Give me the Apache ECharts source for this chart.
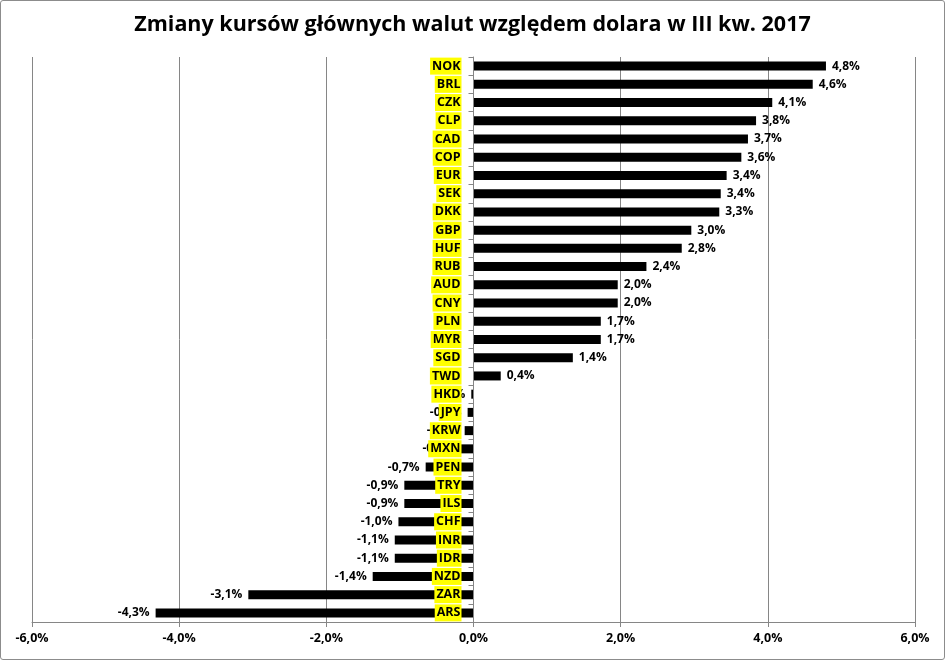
<!DOCTYPE html>
<html>
<head>
<meta charset="utf-8">
<script src="https://cdn.jsdelivr.net/npm/echarts@6/dist/echarts.min.js"></script>
<style>
  html, body { margin: 0; padding: 0; background: #fff; }
  #chart { width: 943px; height: 658px; border: 1px solid #8c8c8c; border-radius: 3px; }
</style>
</head>
<body>
<div id="chart"></div>
<script>
// waluty, od góry wykresu
var currencies = ['NOK', 'BRL', 'CZK', 'CLP', 'CAD', 'COP', 'EUR', 'SEK', 'DKK', 'GBP',
    'HUF', 'RUB', 'AUD', 'CNY', 'PLN', 'MYR', 'SGD', 'TWD', 'HKD', 'JPY',
    'KRW', 'MXN', 'PEN', 'TRY', 'ILS', 'CHF', 'INR', 'IDR', 'NZD', 'ZAR', 'ARS'];
// zmiana kursu w %
var changes = [4.79, 4.61, 4.06, 3.84, 3.73, 3.64, 3.44, 3.36, 3.34, 2.96,
    2.83, 2.35, 1.96, 1.96, 1.73, 1.73, 1.35, 0.37, -0.03, -0.08,
    -0.12, -0.18, -0.65, -0.94, -0.94, -1.02, -1.07, -1.07, -1.37, -3.06, -4.32];
var xTicks = [-6, -4, -2, 0, 2, 4, 6];

function pct(v) {
    return v.toFixed(1).replace('.', ',') + '%';
}

var data = [];
for (var i = 0; i < changes.length; i++) {
    data.push({
        value: changes[i],
        label: { position: changes[i] >= 0 ? 'right' : 'left' }
    });
}

var gridLeft = 31, gridRight = 29;
var plotWidth = 943 - gridLeft - gridRight;
var xMin = xTicks[0], xMax = xTicks[xTicks.length - 1];
// oś kategorii ma stać na zerze
var zeroOffset = plotWidth * (0 - xMin) / (xMax - xMin);

var myChart = echarts.init(document.getElementById('chart'));
var option = {
    animation: false,
    title: {
        text: 'Zmiany kursów głównych walut względem dolara w III kw. 2017',
        left: 'center',
        top: 8,
        textStyle: {
            fontFamily: 'Open Sans',
            fontWeight: 'bold',
            fontSize: 21.5,
            color: '#000'
        }
    },
    grid: {
        left: gridLeft,
        right: gridRight,
        top: 56,
        bottom: 37,
        containLabel: false,
        outerBoundsMode: 'none'
    },
    xAxis: {
        type: 'value',
        min: xMin,
        max: xMax,
        interval: 2,
        axisLine: { show: true, lineStyle: { color: '#868686' } },
        axisTick: { show: true, length: 5, lineStyle: { color: '#868686' } },
        splitLine: { show: true, lineStyle: { color: '#868686', width: 1 } },
        axisLabel: {
            formatter: function (v) { return pct(v); },
            fontFamily: 'Open Sans',
            fontWeight: 'bold',
            fontSize: 12.5,
            color: '#000',
            margin: 10
        }
    },
    yAxis: {
        type: 'category',
        inverse: true,
        data: currencies,
        z: 10,
        offset: -zeroOffset,
        axisLine: { show: true, onZero: false, lineStyle: { color: '#868686' } },
        axisTick: { show: true, length: 5, lineStyle: { color: '#868686' } },
        axisLabel: {
            fontFamily: 'Open Sans',
            fontWeight: 'bold',
            fontSize: 12.5,
            color: '#000',
            backgroundColor: '#ffff00',
            padding: [2, 1, 2, 2],
            margin: 12
        }
    },
    series: [
        {
            type: 'bar',
            data: data,
            barWidth: 9,
            itemStyle: { color: '#000' },
            label: {
                show: true,
                distance: 6,
                formatter: function (p) { return pct(p.value); },
                fontFamily: 'Open Sans',
                fontWeight: 'bold',
                fontSize: 12,
                color: '#000'
            }
        }
    ]
};
myChart.setOption(option);
</script>
</body>
</html>
